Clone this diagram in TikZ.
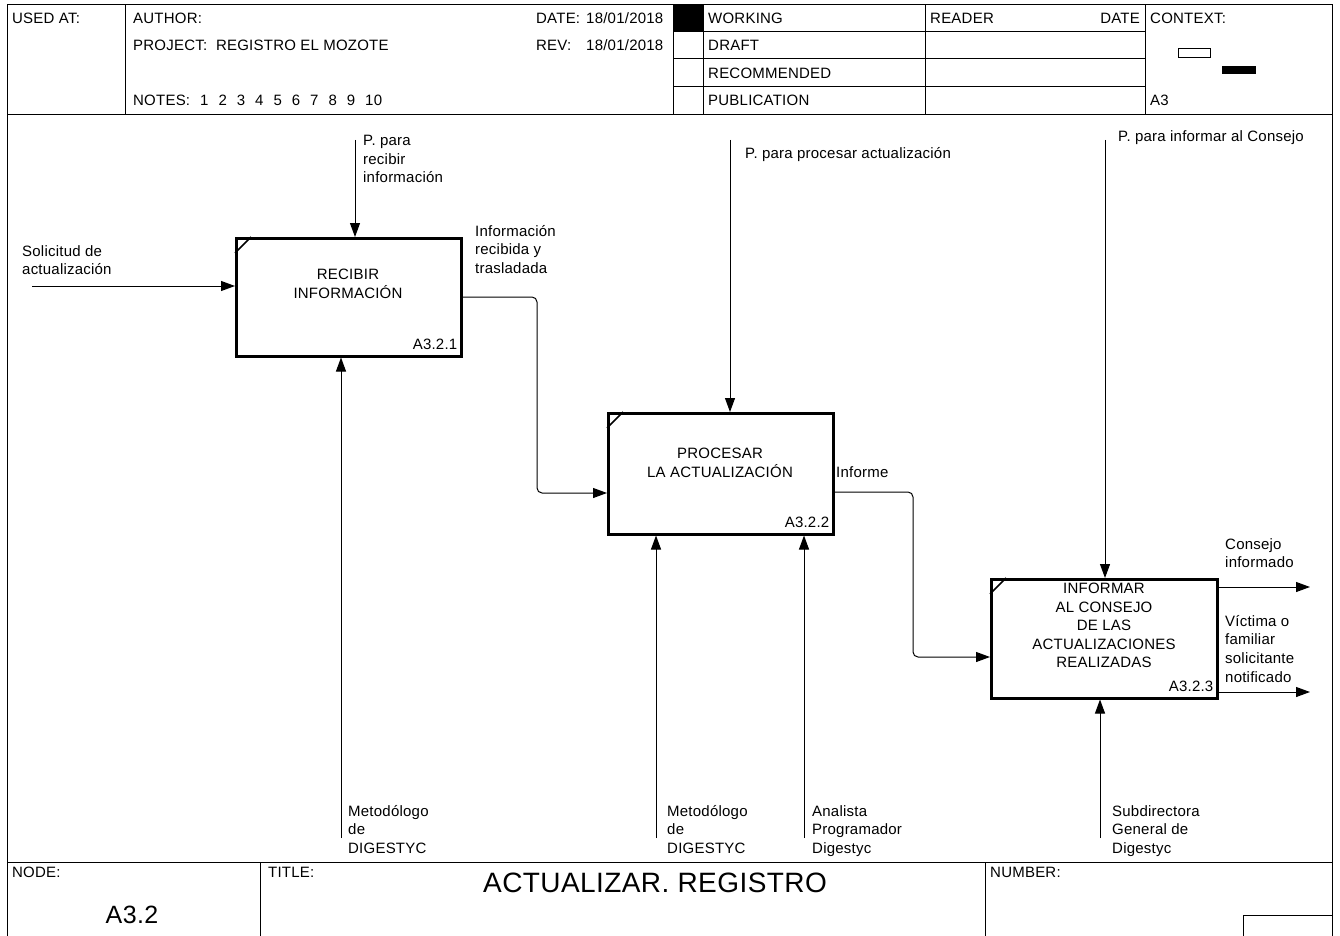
\documentclass[tikz,border=0pt]{standalone}
\usepackage{fontspec}
\setmainfont{Liberation Sans}[LetterSpace=1.5]
\usetikzlibrary{arrows.meta}

\newcommand\txtfont{\fontsize{15}{18.7}\selectfont}
\newcommand\nsp{\hspace{10pt}}

\tikzset{
  frameline/.style={line width=1pt},
  actbox/.style={draw, line width=2.5pt, inner sep=0pt, anchor=north west},
  arr/.style={line width=1pt, -{Triangle[length=14pt,width=10pt]}},
  lbl/.style={font=\txtfont, align=left, inner sep=0pt, anchor=north west,
              execute at begin node=\strut},
  ctr/.style={font=\txtfont, align=center, inner sep=0pt, anchor=north,
              execute at begin node=\strut},
  boxid/.style={font=\txtfont, inner sep=0pt, anchor=base east},
}

\begin{document}
\begin{tikzpicture}[x=1pt,y=-1pt]
  % page
  \fill[white] (0,0) rectangle (1340,936);
  \useasboundingbox (0,0) rectangle (1340,936);

  % outer frame
  \draw[frameline] (7,936) -- (7,5) -- (1332,5) -- (1332,936);
  \draw[frameline] (7,115) -- (1332,115);
  \draw[frameline] (7,862) -- (1332,862);

  % header grid
  \foreach \x in {125,673,703,925,1145} \draw[frameline] (\x,5) -- (\x,115);
  \foreach \y in {32,59,87} \draw[frameline] (673,\y) -- (1145,\y);
  \fill[black] (673,5) rectangle (703,32);
  \draw[line width=0.8pt] (1178,48) rectangle (1210,57);
  \fill[black] (1222,66) rectangle (1256,74);

  % header texts
  \node[lbl] (usedat) at (12,10) {USED AT:};
  \node[lbl] (author) at (133,10) {AUTHOR:};
  \node[lbl] (project) at (133,37) {PROJECT:\ \ REGISTRO EL MOZOTE};
  \node[lbl] (notes) at (133,92) {NOTES:\nsp 1\nsp 2\nsp 3\nsp 4\nsp 5\nsp 6\nsp 7\nsp 8\nsp 9\nsp 10};
  \node[lbl] (date) at (536,10) {\makebox[50pt][l]{DATE:}18/01/2018};
  \node[lbl] (rev) at (536,37) {\makebox[50pt][l]{REV:}18/01/2018};
  \node[lbl] (working) at (708,10) {WORKING};
  \node[lbl] (draft) at (708,37) {DRAFT};
  \node[lbl] (recom) at (708,65) {RECOMMENDED};
  \node[lbl] (publ) at (708,92) {PUBLICATION};
  \node[lbl] (reader) at (930,10) {READER};
  \node[lbl, anchor=north east] (rdate) at (1140,10) {DATE};
  \node[lbl] (context) at (1150,10) {CONTEXT:};
  \node[lbl] (ctxnode) at (1150,92) {A3};

  % footer
  \draw[frameline] (260,862) -- (260,936);
  \draw[frameline] (985,862) -- (985,936);
  \draw[frameline] (1243,936) -- (1243,915) -- (1332,915);
  \node[lbl] (nodelbl) at (12,864) {NODE:};
  \node[lbl] (titlelbl) at (268,864) {TITLE:};
  \node[lbl] (numberlbl) at (990,864) {NUMBER:};
  \node[font=\fontsize{25}{30}\selectfont, inner sep=0pt] (nodeid) at (132,915) {A3.2};
  \node[font=\fontsize{28}{33}\selectfont, inner sep=0pt] (title) at (655,883) {ACTUALIZAR. REGISTRO};

  % activity boxes
  \node[actbox, minimum width=225pt, minimum height=118pt] (b1) at (235,237) {};
  \node[actbox, minimum width=225pt, minimum height=121pt] (b2) at (607,412) {};
  \node[actbox, minimum width=226pt, minimum height=119pt] (b3) at (990,578) {};
  \foreach \b in {b1,b2,b3}
    \draw[line width=1.5pt] ([yshift=-16pt]\b.north west) -- ([xshift=16pt]\b.north west);

  \node[ctr] (t1) at (348,269) {RECIBIR\\INFORMACIÓN};
  \node[ctr] (t2) at (720,448) {PROCESAR\\LA ACTUALIZACIÓN};
  \node[ctr, font=\fontsize{15}{18.5}\selectfont] (t3) at (1104,583)
    {INFORMAR\\AL CONSEJO\\DE LAS\\ACTUALIZACIONES\\REALIZADAS};
  \node[boxid] (id1) at ([shift={(-5,-8)}]b1.south east) {A3.2.1};
  \node[boxid] (id2) at ([shift={(-5,-8)}]b2.south east) {A3.2.2};
  \node[boxid] (id3) at ([shift={(-5,-8)}]b3.south east) {A3.2.3};

  % free ends and bends of the arrows
  \coordinate (i1) at (32,286);
  \coordinate (k1) at (355,140);
  \coordinate (k2) at (730,140);
  \coordinate (k3) at (1105,140);
  \coordinate (m1) at (341,838);
  \coordinate (m2) at (656,838);
  \coordinate (m3) at (804,838);
  \coordinate (m4) at (1100,838);
  \coordinate (o1) at (537,297);
  \coordinate (o1b) at (537,493);
  \coordinate (o2) at (913,492);
  \coordinate (o2b) at (913,657);
  \coordinate (q1) at (1310,587);
  \coordinate (q2) at (1310,692);

  % inputs and outputs
  \draw[arr] (i1) -- (b1.west |- i1);
  \draw[arr, rounded corners=5pt] (b1.east |- o1) -- (o1) -- (o1b) -- (b2.west |- o1b);
  \draw[arr, rounded corners=5pt] (b2.east |- o2) -- (o2) -- (o2b) -- (b3.west |- o2b);
  \draw[arr] (b3.east |- q1) -- (q1);
  \draw[arr] (b3.east |- q2) -- (q2);

  % controls
  \draw[arr] (k1) -- (k1 |- b1.north);
  \draw[arr] (k2) -- (k2 |- b2.north);
  \draw[arr] (k3) -- (k3 |- b3.north);

  % mechanisms
  \draw[arr] (m1) -- (m1 |- b1.south);
  \draw[arr] (m2) -- (m2 |- b2.south);
  \draw[arr] (m3) -- (m3 |- b2.south);
  \draw[arr] (m4) -- (m4 |- b3.south);

  % arrow labels
  \node[lbl] (lsol) at (22,245) {Solicitud de\\actualización};
  \node[lbl] (lk1) at (363,135) {P. para\\recibir\\información};
  \node[lbl] (lo1) at (475,225) {Información\\recibida y\\trasladada};
  \node[lbl] (lk2) at (745,145) {P. para procesar actualización};
  \node[lbl] (lk3) at (1118,128) {P. para informar al Consejo};
  \node[lbl] (lo2) at (836,464) {Informe};
  \node[lbl] (lq1) at (1225,538) {Consejo\\informado};
  \node[lbl] (lq2) at (1225,615) {Víctima o\\familiar\\solicitante\\notificado};
  \node[lbl] (lm1) at (348,805) {Metodólogo\\de\\DIGESTYC};
  \node[lbl] (lm2) at (667,805) {Metodólogo\\de\\DIGESTYC};
  \node[lbl] (lm3) at (812,805) {Analista\\Programador\\Digestyc};
  \node[lbl] (lm4) at (1112,805) {Subdirectora\\General de\\Digestyc};
\end{tikzpicture}
\end{document}
